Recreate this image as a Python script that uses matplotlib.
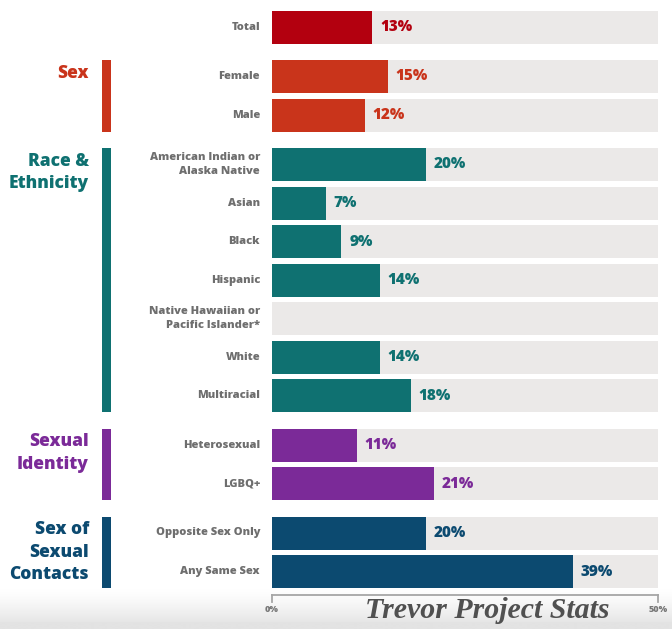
import numpy as np
import matplotlib
matplotlib.use("Agg")
import matplotlib.pyplot as plt
from matplotlib.transforms import blended_transform_factory

# ---- data ----
groups = ["", "Sex", "Race &\nEthnicity", "Sexual\nIdentity", "Sex of\nSexual\nContacts"]
group_members = [
    ["Total"],
    ["Female", "Male"],
    ["American Indian or\nAlaska Native", "Asian", "Black", "Hispanic",
     "Native Hawaiian or\nPacific Islander*", "White", "Multiracial"],
    ["Heterosexual", "LGBQ+"],
    ["Opposite Sex Only", "Any Same Sex"],
]
group_values = [
    [13],
    [15, 12],
    [20, 7, 9, 14, None, 14, 18],
    [11, 21],
    [20, 39],
]
group_colors = ["#b3000f", "#c9341b", "#0f7171", "#7b2a98", "#0c4a70"]
axis_max = 50
tick_labels = ["0%", "50%"]

W, H = 672, 629
fig = plt.figure(figsize=(W / 100, H / 100), dpi=100)
fig.patch.set_facecolor("white")

# soft grey band along the bottom (white at the top, grey at the foot)
bg = fig.add_axes([0, 0, 1, 40 / H], zorder=0)
t = np.linspace(0.0, 1.0, 128)
shade = np.clip(t / 0.8, 0, 1) ** 1.3 * 0.85 + (t > 0.82) * 0.15
bg.imshow(shade.reshape(-1, 1), aspect="auto", interpolation="bilinear",
          cmap=matplotlib.colors.LinearSegmentedColormap.from_list(
              "band", ["#ffffff", "#e3e3e3"]), extent=[0, 1, 0, 1], vmin=0, vmax=1)
bg.axis("off")

x0, x1 = 272, 658
ax = fig.add_axes([x0 / W, 0, (x1 - x0) / W, 1], zorder=1)
ax.patch.set_alpha(0)
ax.set_xlim(0, axis_max)
ax.set_ylim(H, 0)
ax.axis("off")

label_font = ["Open Sans", "DejaVu Sans"]
fig_x = blended_transform_factory(fig.transFigure, ax.transData)

pitch, gap, bar_h = 38.5, 11.0, 33.0
y = 27.0
for gi, (gname, members, vals, col) in enumerate(zip(groups, group_members, group_values, group_colors)):
    if gi > 0:
        y += gap
    ys = []
    for name, v in zip(members, vals):
        ax.barh(y, axis_max, height=bar_h, left=0, color="#ebe9e8", zorder=1)
        if v is not None:
            ax.barh(y, v, height=bar_h, left=0, color=col, zorder=2)
            ax.text(v + 1.0, y, f"{v}%", ha="left", va="center", color=col,
                    fontsize=11, fontweight="heavy", family=label_font, zorder=3)
        ax.text(260 / W, y, name, transform=fig_x, ha="right", va="center",
                color="#6e6e6e", fontsize=8, fontweight="heavy", family=label_font,
                linespacing=1.45)
        ys.append(y)
        y += pitch
    if gname:
        top, bot = ys[0] - bar_h / 2, ys[-1] + bar_h / 2
        ax.fill_between([102 / W, 111 / W], top, bot, transform=fig_x, color=col,
                        linewidth=0, clip_on=False)
        ax.text(89 / W, top + 5, gname, transform=fig_x, ha="right", va="top",
                color=col, fontsize=12.5, fontweight="heavy", family=label_font,
                linespacing=1.4)

# scale bracket under the bars
ay = 595
ax.plot([0, axis_max], [ay, ay], color="#a6a6a6", lw=1.3, clip_on=False, zorder=2)
ax.plot([0, 0], [ay, ay + 7], color="#a6a6a6", lw=1.3, clip_on=False, zorder=2)
ax.plot([axis_max, axis_max], [ay, ay + 7], color="#a6a6a6", lw=1.3, clip_on=False, zorder=2)
ax.text(0, 609, tick_labels[0], ha="center", va="center", color="#777777",
        fontsize=6.5, fontweight="heavy", family=label_font)
ax.text(axis_max, 609, tick_labels[1], ha="center", va="center", color="#777777",
        fontsize=6.5, fontweight="heavy", family=label_font)

fig.text(487 / W, 1 - 611 / H, "Trevor Project Stats", ha="center", va="center",
         color="#505050", fontsize=21.5, fontweight="bold", fontstyle="italic",
         family=["Liberation Serif", "DejaVu Serif"], zorder=5)

fig.savefig("out.png", dpi=100)
